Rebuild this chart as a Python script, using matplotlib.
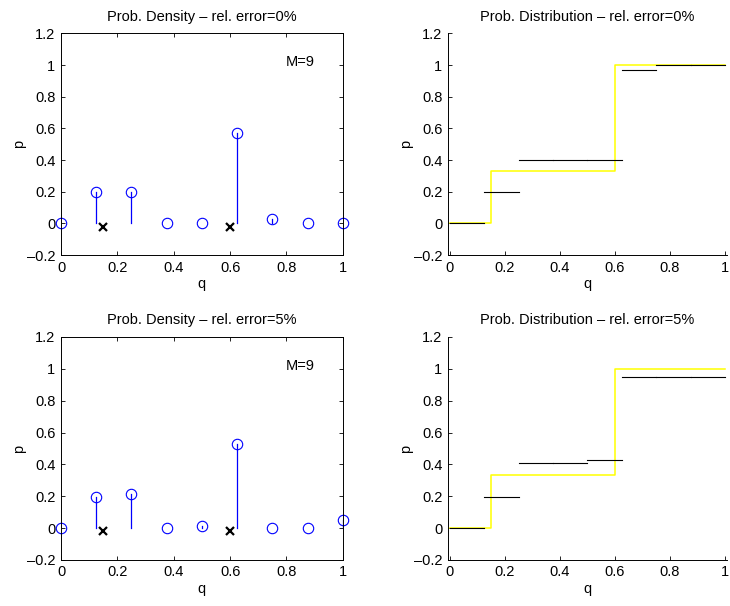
import matplotlib
matplotlib.use("Agg")
import matplotlib.pyplot as plt
import numpy as np

plt.rcParams['font.family'] = ['Liberation Sans', 'DejaVu Sans']
plt.rcParams['font.size'] = 10.5

# nodes and estimated densities
q_nodes = [0, 0.125, 0.25, 0.375, 0.5, 0.625, 0.75, 0.875, 1]
p_err0 = [0, 0.2, 0.2, 0, 0, 0.57, 0.03, 0, 0]
p_err5 = [0, 0.195, 0.215, 0, 0.015, 0.525, 0, 0, 0.05]

# true support points (crosses) and true distribution
q_true = [0.15, 0.6]
p_cross = [-0.02, -0.02]
cdf_x = [0, 0.15, 0.15, 0.6, 0.6, 1]
cdf_y = [0, 0, 1 / 3, 1 / 3, 1, 1]

titles = ["rel. error=0%", "rel. error=5%"]
M_label = "M=9"
yticks = [-0.2, 0, 0.2, 0.4, 0.6, 0.8, 1, 1.2]
xticks = [0, 0.2, 0.4, 0.6, 0.8, 1]


def fmt(v):
    return ("%g" % v).replace("-", "\u2013")


fig = plt.figure(figsize=(7.3, 6.06), dpi=100)

rows = [(0.579, 0.366), (0.076, 0.368)]
for r, (p_vals, title) in enumerate(zip([p_err0, p_err5], titles)):
    bottom, height = rows[r]

    # density plot
    ax = fig.add_axes([0.0836, bottom, 0.386, height])
    for x, y in zip(q_nodes, p_vals):
        ax.plot([x, x], [0, y], color="blue", lw=0.9)
    ax.plot(q_nodes, p_vals, "o", mfc="none", mec="blue", ms=7.5, mew=0.8, clip_on=False)
    ax.plot(q_true, p_cross, "x", color="black", ms=5.5, mew=1.6)
    ax.text(0.85, 1.02, M_label, ha="center", va="center")
    ax.set_xlim(0, 1)
    ax.set_ylim(-0.2, 1.2)
    ax.set_xticks(xticks)
    ax.set_xticklabels([fmt(v) for v in xticks])
    ax.set_yticks(yticks)
    ax.set_yticklabels([fmt(v) for v in yticks])
    ax.tick_params(direction="in", length=3, top=True, right=True, width=0.6, pad=4)
    for s in ax.spines.values():
        s.set_linewidth(0.7)
    ax.set_xlabel("q", labelpad=2)
    ax.set_ylabel("p", labelpad=1)
    ax.set_title("Prob. Density \u2013 " + title, fontsize=10.5, pad=9)

    # distribution plot
    ax2 = fig.add_axes([0.6137, bottom, 0.382, height])
    ax2.plot(cdf_x, cdf_y, color="#ffff00", lw=1.1)
    cum = np.cumsum(p_vals)
    for i in range(len(q_nodes) - 1):
        ax2.plot([q_nodes[i], q_nodes[i + 1]], [cum[i], cum[i]], color="black", lw=0.8)
    ax2.set_xlim(-0.007, 1.007)
    ax2.set_ylim(-0.2, 1.2)
    ax2.set_xticks(xticks)
    ax2.set_xticklabels([fmt(v) for v in xticks])
    ax2.set_yticks(yticks)
    ax2.set_yticklabels([fmt(v) for v in yticks])
    ax2.tick_params(direction="in", length=3, width=0.6, pad=4)
    ax2.spines["top"].set_visible(False)
    ax2.spines["right"].set_visible(False)
    for s in ax2.spines.values():
        s.set_linewidth(0.7)
    ax2.set_xlabel("q", labelpad=2)
    ax2.set_ylabel("p", labelpad=1)
    ax2.set_title("Prob. Distribution \u2013 " + title, fontsize=10.5, pad=9)

fig.savefig("out.png", dpi=100)
